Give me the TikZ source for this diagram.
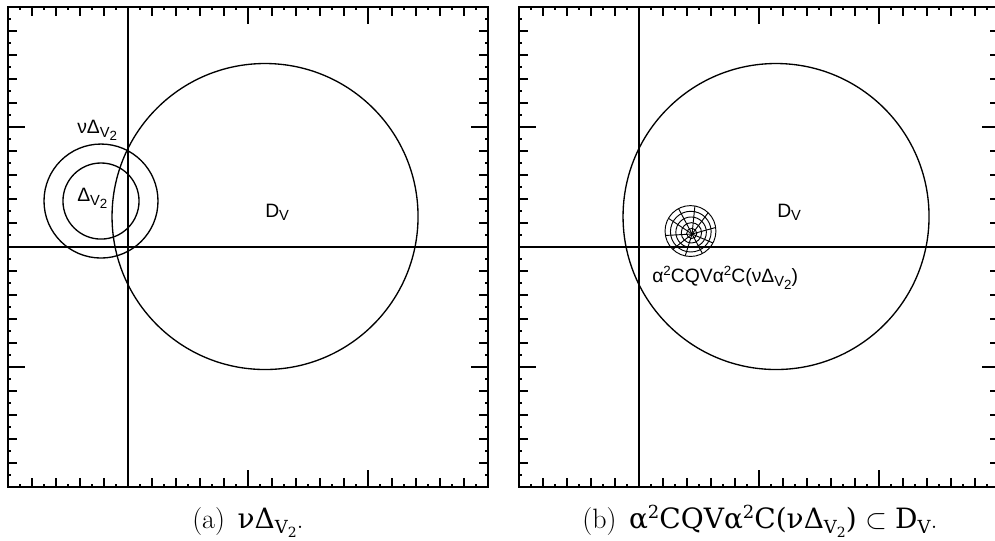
\documentclass[tikz,border=0pt]{standalone}
\usepackage[no-math]{fontspec}
\newfontfamily\plotfont{Liberation Sans}
\newfontfamily\capfont{DejaVu Serif}
\newcommand\subV{\raisebox{-1.7pt}{\fontsize{11}{12}\selectfont V}}
\newcommand\subVtwo{\raisebox{-2.3pt}{\fontsize{11}{12}\selectfont V\raisebox{-2.3pt}{\fontsize{10}{11}\selectfont 2}}}
\newcommand\supTwo{\raisebox{5.5pt}{\fontsize{10}{11}\selectfont 2}}
\newcommand\csup[1]{\raisebox{7.3pt}{\fontsize{13.5}{14}\selectfont #1}}
\newcommand\csub[1]{\raisebox{-4.2pt}{\fontsize{13.5}{14}\selectfont #1}}
\newcommand\csubsub[1]{\raisebox{-3pt}{\fontsize{10.5}{11}\selectfont #1}}
\newcommand\drawpanel{%
  \draw[framestyle] (-1,-2) rectangle (3,2);
  \draw[axisstyle] (0,-2) -- (0,2);
  \draw[axisstyle] (-1,0) -- (3,0);
  \foreach \i in {1,3,...,39} {
    \draw[tickstyle] (-1+\i/10,-2) -- ++(0,0.025);
    \draw[tickstyle] (-1+\i/10,2) -- ++(0,-0.025);
    \draw[tickstyle] (-1,-2+\i/10) -- ++(0.025,0);
    \draw[tickstyle] (3,-2+\i/10) -- ++(-0.025,0);
  }
  \foreach \i in {2,4,...,38} {
    \draw[tickstyle] (-1+\i/10,-2) -- ++(0,0.075);
    \draw[tickstyle] (-1+\i/10,2) -- ++(0,-0.075);
    \draw[tickstyle] (-1,-2+\i/10) -- ++(0.075,0);
    \draw[tickstyle] (3,-2+\i/10) -- ++(-0.075,0);
  }
  \foreach \v in {1,2} {
    \draw[tickstyle] (\v,-2) -- ++(0,0.142);
    \draw[tickstyle] (\v,2) -- ++(0,-0.142);
  }
  \foreach \v in {-1,1} {
    \draw[tickstyle] (-1,\v) -- ++(0.142,0);
    \draw[tickstyle] (3,\v) -- ++(-0.142,0);
  }
}
\begin{document}
\begin{tikzpicture}[x=0.75pt,y=-0.75pt,
  framestyle/.style={line width=1.1pt},
  axisstyle/.style={line width=0.9pt},
  tickstyle/.style={line width=0.8pt},
  curvestyle/.style={line width=1pt},
  gridstyle/.style={line width=0.7pt},
  lab/.style={inner sep=0pt, font=\plotfont\fontsize{14.5}{16}\selectfont},
  captext/.style={inner sep=0pt, font=\fontsize{21}{25}\selectfont}]
\useasboundingbox (0,0) rectangle (995,541);
\clip (0,0) rectangle (995,541);
% panel (a)
\begin{scope}[shift={(128,247)}, x=90pt, y=90pt]
  \drawpanel
  \draw[curvestyle] (1.142,0.254) circle[radius=1.275];
  \draw[curvestyle] (-0.225,0.383) circle[radius=0.317];
  \draw[curvestyle] (-0.225,0.383) circle[radius=0.475];
\end{scope}
% panel (b)
\begin{scope}[shift={(639,247)}, x=90pt, y=90pt]
  \drawpanel
  \draw[curvestyle] (1.142,0.254) circle[radius=1.275];
  \foreach \k in {1,...,5} {
    \draw[gridstyle] ({0.442-0.013*\k/5},{0.108+0.025*\k/5}) circle[radius={0.212*\k/5}];
  }
  \foreach \a in {8,46,80,118,150,190,226,258,298,332} {
    \draw[gridstyle] (0.442,0.108) -- ({0.429+0.212*cos(\a)},{0.133+0.212*sin(\a)});
  }
\end{scope}
% labels
\node[lab, anchor=base west] (labNu) at (77,134) {νΔ\subVtwo};
\node[lab, anchor=base west] (labDelta) at (77,202) {Δ\subVtwo};
\node[lab, anchor=base west] (labDa) at (265,218) {D\subV};
\node[lab, anchor=base west] (labDb) at (777,218) {D\subV};
\node[lab, anchor=base west] (labPolar) at (652,283) {α\supTwo CQVα\supTwo C(νΔ\subVtwo)};
% captions
\node[captext, anchor=base] (capA) at (248,528) {(a)\hspace{0.45em}{\capfont νΔ\csub{V\csubsub{2}}}.};
\node[captext, anchor=base] (capB) at (760,528) {(b)\hspace{0.45em}{\capfont α\csup{2}CQVα\csup{2}C(νΔ\csub{V\csubsub{2}})}\ $\subset$\ {\capfont D\csub{V}}.};
\end{tikzpicture}
\end{document}
